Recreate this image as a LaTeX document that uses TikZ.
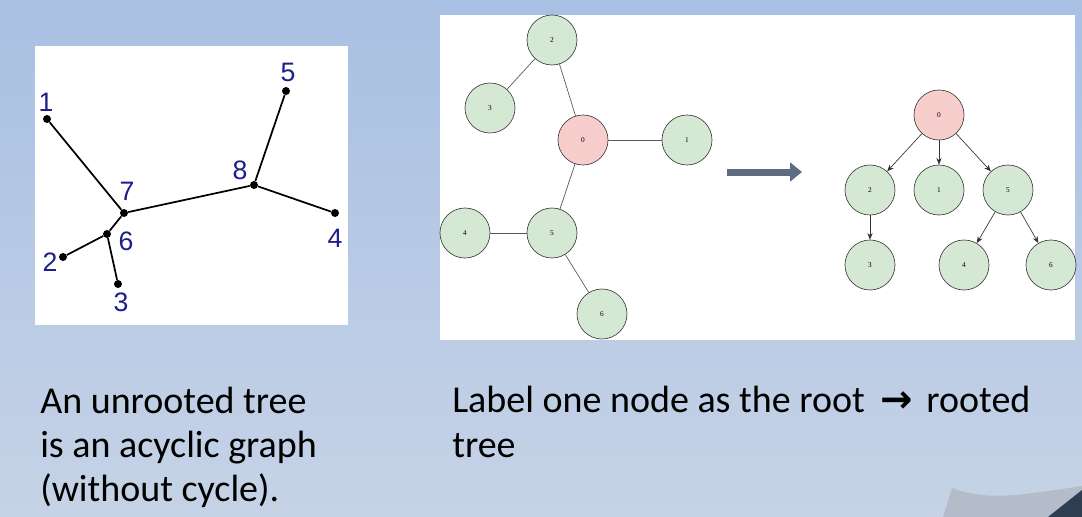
\documentclass[tikz,border=0pt]{standalone}
\usepackage{fontspec}
\setmainfont{Carlito}
\newfontfamily\numfont{Liberation Sans}
\newfontfamily\vertfont{Liberation Serif}
\newfontfamily\arrowfont{DejaVu Sans}
\usepackage{tikz}
\usetikzlibrary{arrows.meta, positioning, shapes.geometric, calc}

\definecolor{bgtop}{HTML}{A8C0E3}
\definecolor{bgbot}{HTML}{C6D3E6}
\definecolor{navy}{HTML}{1E1E8A}
\definecolor{nodegreen}{HTML}{D5E8D4}
\definecolor{nodered}{HTML}{F8CECC}
\definecolor{slate}{HTML}{5D6C80}
\definecolor{cornerlight}{HTML}{B4BCCA}
\definecolor{cornerdark}{HTML}{2F3D52}

\tikzset{
  dot/.style={circle, fill=black, inner sep=0pt, minimum size=6pt},
  treeline/.style={line width=1.3pt, black},
  num/.style={font=\numfont\fontsize{20}{20}\selectfont, text=navy, inner sep=0pt},
  vert/.style={circle, draw=black!75, fill=nodegreen, line width=0.5pt,
    minimum size=37.5pt, inner sep=0pt, font=\vertfont\fontsize{5.5}{6}\selectfont},
  rootvert/.style={vert, fill=nodered},
  graphline/.style={line width=0.5pt, black!65},
  treearrow/.style={line width=0.5pt, black!80, -{Stealth[length=5pt, width=4pt]}},
  caption/.style={font=\fontsize{28.5}{33}\selectfont, anchor=base west, inner sep=0pt}
}

\begin{document}
\begin{tikzpicture}[x=0.75pt, y=-0.75pt]
  % background
  \fill[top color=bgtop, bottom color=bgbot] (0,0) rectangle (1082,517);
  \fill[cornerlight] (952,488) .. controls (985,500) and (1010,497) .. (1082,486) -- (1082,517) -- (943,517) -- cycle;
  \fill[cornerdark] (1082,490) -- (1082,517) -- (1048,517) -- cycle;
  \useasboundingbox (0,0) rectangle (1082,517);

  % white panels
  \fill[white] (35,46) rectangle (348,325);
  \fill[white] (440,15) rectangle (1075,340);

  % unrooted tree
  \foreach \n/\x/\y in {1/47/119, 2/63/257, 3/118/284, 4/335/213, 5/286/91, 6/107/234, 7/124/213, 8/254/185} {
    \node[dot] (p\n) at (\x,\y) {};
  }
  \foreach \a/\b in {1/7, 7/8, 8/5, 8/4, 7/6, 6/2, 6/3} {
    \draw[treeline] (p\a) -- (p\b);
  }
  \foreach \n/\x/\y in {1/46/102, 2/50/262, 3/121/302, 4/335/238, 5/288/72, 6/126/241, 7/127/191, 8/240/170} {
    \node[num] (l\n) at (\x,\y) {\n};
  }

  % graph before rooting
  \node[rootvert] (g0) at (583,140) {0};
  \foreach \n/\x/\y in {1/687/140, 2/552/40, 3/490/108, 4/465/233, 5/552/233, 6/602/314} {
    \node[vert] (g\n) at (\x,\y) {\n};
  }
  \foreach \a/\b in {2/3, 2/0, 0/1, 0/5, 5/4, 5/6} {
    \draw[graphline] (g\a) -- (g\b);
  }

  % block arrow
  \coordinate (ar1) at (727,172);
  \coordinate (ar2) at (802,172);
  \draw[slate, line width=5.25pt, -{Triangle[length=9pt, width=14pt]}] (ar1) -- (ar2);

  % rooted tree
  \node[rootvert] (t0) at (939,115) {0};
  \foreach \n/\x/\y in {2/870/190, 1/939/190, 5/1008/190, 3/870/265, 4/964/265, 6/1051/265} {
    \node[vert] (t\n) at (\x,\y) {\n};
  }
  \foreach \a/\b in {0/2, 0/1, 0/5, 2/3, 5/4, 5/6} {
    \draw[treearrow] (t\a) -- (t\b);
  }

  % captions
  \node[caption] (c1) at (40,413) {An unrooted tree};
  \node[caption] (c2) at (40,457) {is an acyclic graph};
  \node[caption] (c3) at (40,501) {(without cycle).};
  \node[caption] (c4) at (452,412) {Label one node as the root \hspace{5pt}{\arrowfont\bfseries\fontsize{29}{29}\selectfont →}\hspace{4pt} rooted};
  \node[caption] (c5) at (452,457) {tree};
\end{tikzpicture}
\end{document}
